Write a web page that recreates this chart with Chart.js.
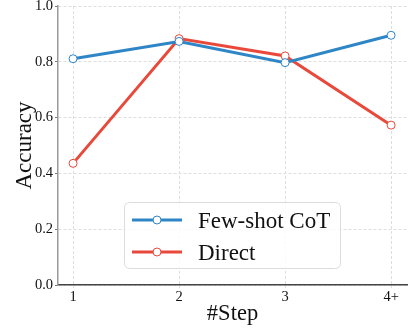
<!DOCTYPE html>
<html><head><meta charset="utf-8">
<script src="https://cdn.jsdelivr.net/npm/chart.js@4"></script>
<style>html,body{margin:0;padding:0;background:#fff}#w{width:415px;height:332px}</style>
</head><body><div id="w"><canvas id="c" width="415" height="332"></canvas></div>
<script>
const categories = ["1", "2", "3", "4+"];
const fewShotCoT = [0.811, 0.873, 0.797, 0.895];
const direct = [0.436, 0.883, 0.821, 0.573];
const yTicks = [0.0, 0.2, 0.4, 0.6, 0.8, 1.0];
const seriesNames = ["Few-shot CoT", "Direct"];
const colors = ["#2f86c6", "#e8493b"];

const toPts = arr => arr.map((v, i) => ({x: i + 1, y: v}));
const serif = "'Liberation Serif','DejaVu Serif',serif";

const legendPlugin = {
  id: 'boxLegend',
  afterDraw(chart) {
    const ctx = chart.ctx;
    const x0 = 124, y0 = 202, w = 216, h = 66, r = 5;
    ctx.save();
    ctx.fillStyle = 'rgba(255,255,255,0.85)';
    ctx.strokeStyle = '#dcdcdc';
    ctx.lineWidth = 1;
    ctx.beginPath();
    ctx.roundRect(x0 + 0.5, y0 + 0.5, w, h, r);
    ctx.fill(); ctx.stroke();
    chart.data.datasets.forEach((ds, i) => {
      const cy = y0 + 18 + i * 32;
      ctx.strokeStyle = ds.borderColor;
      ctx.lineWidth = 3;
      ctx.beginPath(); ctx.moveTo(132, cy); ctx.lineTo(182, cy); ctx.stroke();
      ctx.beginPath(); ctx.arc(157, cy, 4, 0, Math.PI * 2);
      ctx.fillStyle = '#fff'; ctx.fill();
      ctx.lineWidth = 1; ctx.stroke();
      ctx.fillStyle = '#111';
      ctx.font = "23px " + serif;
      ctx.textBaseline = 'alphabetic';
      ctx.fillText(ds.label, 198, cy + 8);
    });
    ctx.restore();
  }
};

new Chart(document.getElementById('c'), {
  type: 'line',
  data: {
    datasets: [
      {label: seriesNames[0], data: toPts(fewShotCoT), borderColor: colors[0], backgroundColor: '#fff',
       borderWidth: 3, pointRadius: 4, pointBorderWidth: 1, pointBackgroundColor: '#fff', pointBorderColor: colors[0]},
      {label: seriesNames[1], data: toPts(direct), borderColor: colors[1], backgroundColor: '#fff',
       borderWidth: 3, pointRadius: 4, pointBorderWidth: 1, pointBackgroundColor: '#fff', pointBorderColor: colors[1]}
    ]
  },
  options: {
    responsive: false, animation: false,
    layout: {padding: {top: 6, right: 8, left: 0, bottom: 0}},
    plugins: {legend: {display: false}, tooltip: {enabled: false}},
    scales: {
      x: {
        type: 'linear', min: 0.858, max: 4.15,
        afterBuildTicks: s => { s.ticks = categories.map((c, i) => ({value: i + 1})); },
        afterFit: s => { s.height = 47; s.paddingLeft = 0; s.paddingRight = 0; },
        ticks: {callback: v => categories[v - 1], color: '#111', font: {family: serif, size: 14.5}, padding: 0, maxRotation: 0},
        grid: {color: '#dedede', tickColor: '#dedede', tickLength: 3, drawTicks: true},
        border: {display: true, color: '#444', width: 1.5, dash: [3, 2]},
        title: {display: true, text: '#Step', color: '#111', font: {family: serif, size: 22.5}, padding: {top: 0}}
      },
      y: {
        min: 0, max: 1,
        afterBuildTicks: s => { s.ticks = yTicks.map(v => ({value: v})); },
        afterFit: s => { s.width = 58; s.paddingTop = 0; s.paddingBottom = 0; },
        ticks: {callback: v => v.toFixed(1), color: '#111', font: {family: serif, size: 14.5}, padding: 2},
        grid: {color: '#dedede', tickColor: '#777', tickLength: 3},
        border: {display: true, color: '#999', width: 1.5, dash: [3, 2]},
        title: {display: true, text: 'Accuracy', color: '#111', font: {family: serif, size: 23}, padding: {top: 11, bottom: 0}}
      }
    }
  },
  plugins: [legendPlugin]
});
</script>
</body></html>
